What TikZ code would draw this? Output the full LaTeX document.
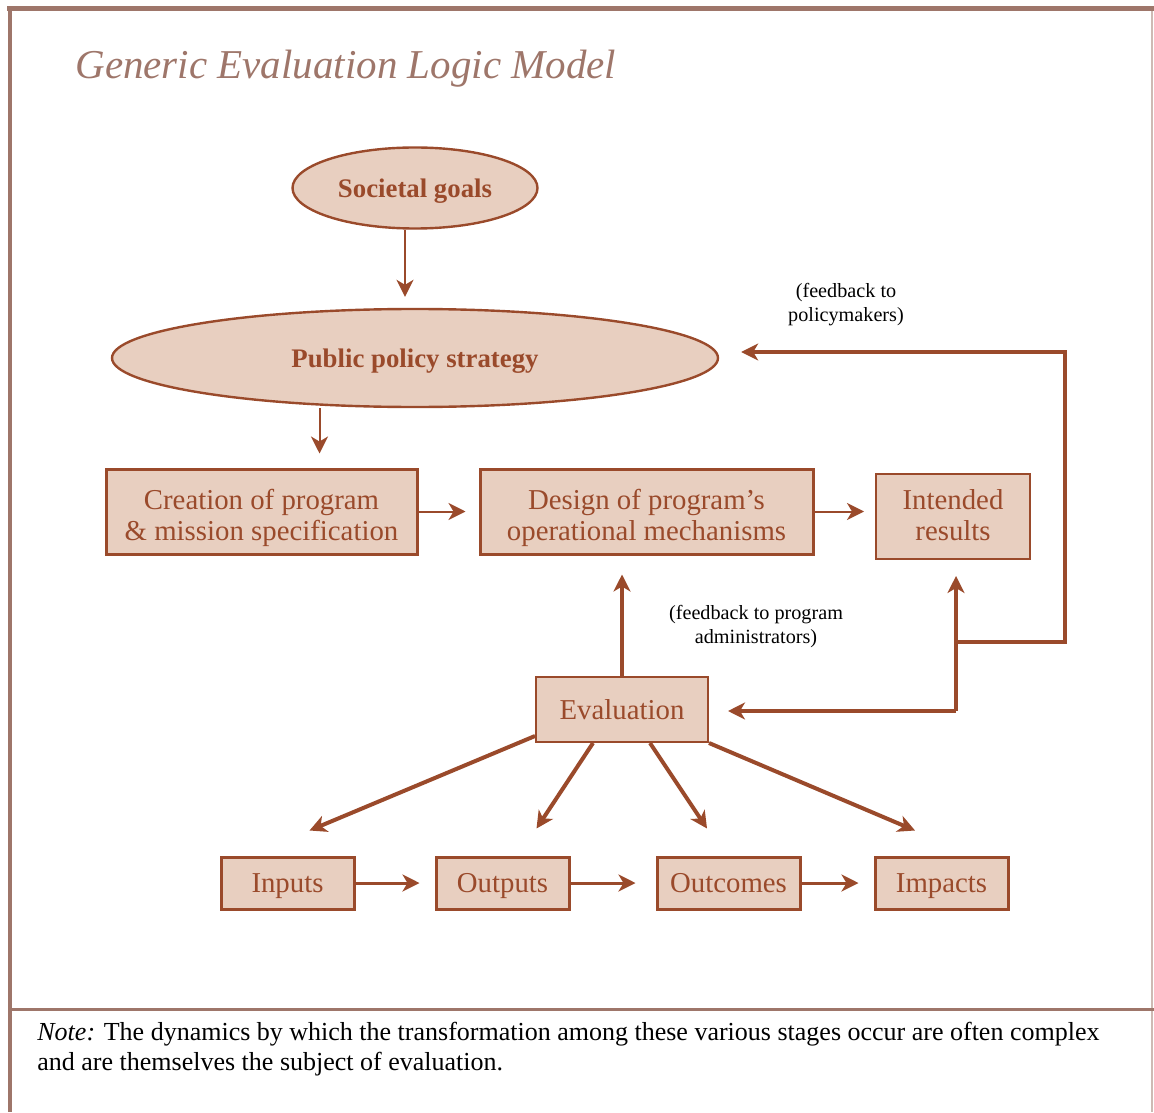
\documentclass[tikz,border=0pt]{standalone}
\usepackage{fontspec}
\setmainfont{Liberation Serif}
\usetikzlibrary{arrows.meta,positioning,shapes.geometric}
\definecolor{rust}{HTML}{9A4A2B}
\definecolor{blush}{HTML}{E8CFC0}
\definecolor{framec}{HTML}{9E766A}

\begin{document}
\begin{tikzpicture}[x=0.5pt,y=-0.5pt,>={Stealth[length=8.5pt,width=8.5pt,inset=2.5pt]},
 ell/.style={ellipse,draw=rust,fill=blush,line width=1.2pt,text=rust,inner sep=0pt,text depth=0pt,font=\bfseries\fontsize{13.4}{15}\selectfont},
 b/.style={draw=rust,fill=blush,line width=1.5pt,text=rust,align=center,inner sep=0pt,minimum height=42.5pt,font=\fontsize{14.4}{15.5}\selectfont},
 twoline/.style={text height=28.5pt,text depth=0pt},
 sb/.style={b,minimum height=26pt,text depth=0pt},
 arr/.style={->,draw=rust,line width=1pt},
 fat/.style={->,draw=rust,line width=2pt},
 mid/.style={->,draw=rust,line width=1.5pt},
 fbtext/.style={align=center,inner sep=0pt,font=\fontsize{10.1}{12}\selectfont}]
\useasboundingbox (0,0) rectangle (1154,1112);
\draw[framec,line width=0.6pt,opacity=0.5] (1152,8) -- (1152,1112);
\draw[framec,line width=2.5pt] (7,8.5) -- (1154,8.5);
\draw[framec,line width=2pt] (9.5,7) -- (9.5,1112);
\draw[framec,line width=1.5pt] (10,1009) -- (1154,1009);
\node[anchor=base west,inner sep=0pt,text=framec,font=\itshape\fontsize{20.5}{24}\selectfont] (title) at (75,79) {Generic Evaluation Logic Model};
\node[ell,minimum width=122.5pt,minimum height=40.5pt] (goals) at (415,188) {Societal goals};
\node[ell,minimum width=303pt,minimum height=49pt] (policy) at (415,358) {Public policy strategy};
\node[b,twoline,minimum width=155.5pt] (creation) at (261.5,511.5) {Creation of program\\\& mission specification};
\node[b,twoline,minimum width=166.5pt] (design) at (646.5,511.5) {Design of program’s\\operational mechanisms};
\node[b,twoline,text height=23.5pt,minimum width=77pt,line width=1pt] (results) at (953,516.5) {Intended\\results};
\node[b,minimum width=86pt,minimum height=32.5pt,text depth=0pt,line width=1pt] (evaluation) at (622,709.5) {Evaluation};
\node[sb,minimum width=66.5pt] (inputs) at (287.5,883) {Inputs};
\node[sb,minimum width=66.5pt] (outputs) at (502.5,883) {Outputs};
\node[sb,minimum width=71.5pt] (outcomes) at (728.5,883) {Outcomes};
\node[sb,minimum width=66.5pt] (impacts) at (941.5,883) {Impacts};
\node[fbtext] (fbpolicy) at (846,305) {(feedback to\\policymakers)};
\node[fbtext] (fbadmin) at (756,627) {(feedback to program\\administrators)};
\node[anchor=base west,align=left,inner sep=0pt,font=\fontsize{13}{15}\selectfont] (note) at (37,1070) {\textit{Note:} The dynamics by which the transformation among these various stages occur are often complex\\and are themselves the subject of evaluation.};
\coordinate (j1) at (956,711);
\coordinate (j2) at (956,642);
\coordinate (j4) at (1065,352);
\draw[arr,shorten >=5.5pt] ([xshift=-5pt]goals.south) -- ([xshift=-5pt]goals.south |- policy.north);
\draw[arr,shorten >=7pt] ([xshift=29pt]creation.north |- policy.south) -- ([xshift=29pt]creation.north);
\draw[arr,shorten >=6.5pt] (creation.east) -- (design.west);
\draw[arr,shorten >=5.5pt] (design.east) -- (design.east -| results.west);
\draw[fat,shorten >=9.5pt] (evaluation.north) -- (evaluation.north |- design.south);
\draw[fat] ([yshift=3.5pt]evaluation.south west) -- ([xshift=11pt,yshift=12.5pt]inputs.north);
\draw[fat] ([xshift=-14.5pt]evaluation.south) -- ([xshift=17pt,yshift=13.5pt]outputs.north);
\draw[fat] ([xshift=14pt]evaluation.south) -- ([xshift=-10.75pt,yshift=13.5pt]outcomes.north);
\draw[fat] (evaluation.south east) -- ([xshift=-13.25pt,yshift=12.5pt]impacts.north);
\draw[mid,shorten >=7.5pt] (inputs.east) -- (outputs.west);
\draw[mid,shorten >=10pt] (outputs.east) -- (outcomes.west);
\draw[mid,shorten >=7.5pt] (outcomes.east) -- (impacts.west);
\draw[fat,shorten >=8pt] (j1) -- (j1 |- results.south);
\draw[fat,shorten >=9.5pt] (j1) -- (j1 -| evaluation.east);
\draw[fat,shorten >=11pt] (j2) -| (j4) -- (j4 -| policy.east);
\end{tikzpicture}
\end{document}
